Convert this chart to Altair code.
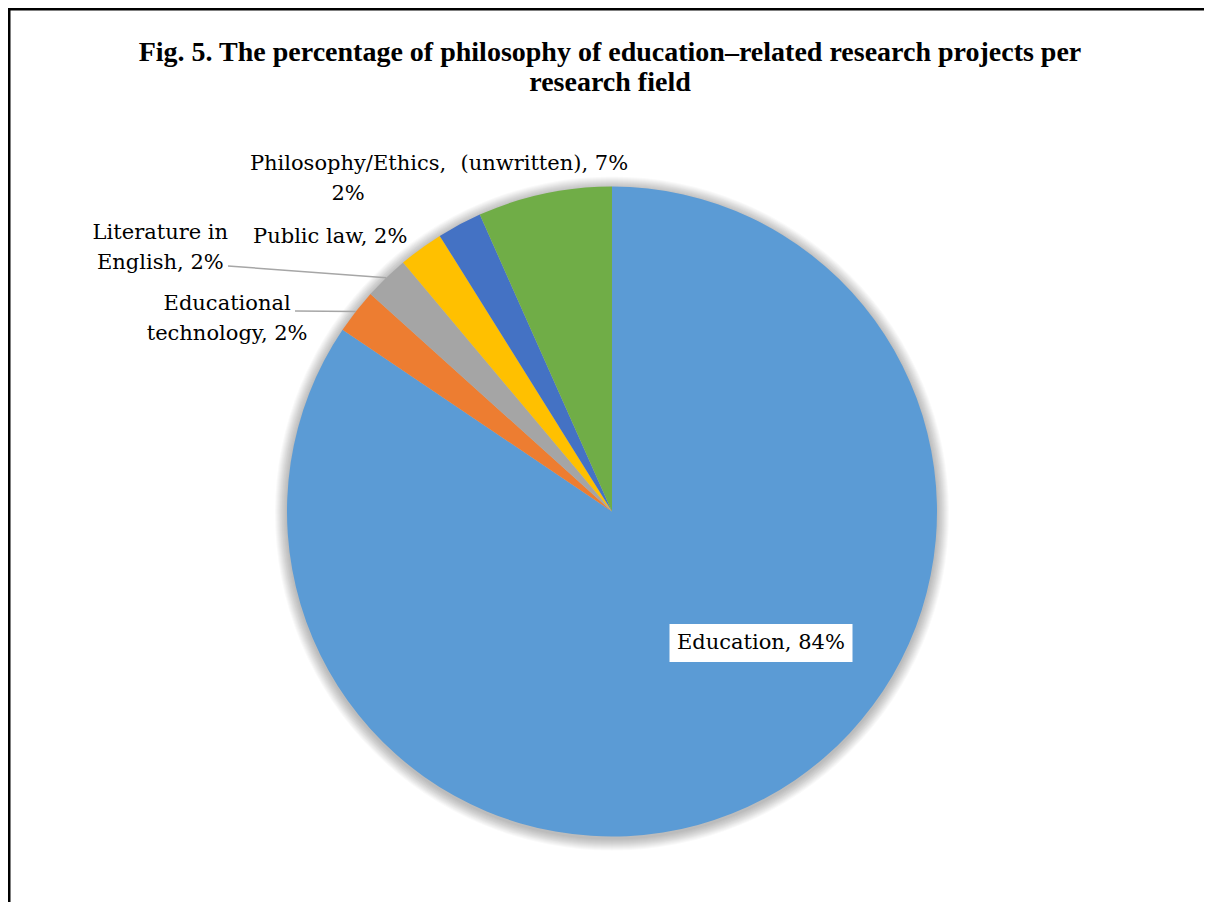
import math
import altair as alt
import pandas as pd

# ---------------- data ----------------
fields = ["Education", "Educational technology", "Literature in English",
          "Public law", "Philosophy/Ethics", "(unwritten)"]
counts = [38, 1, 1, 1, 1, 3]
colors = ["#5B9BD5", "#ED7D31", "#A5A5A5", "#FFC000", "#4472C4", "#70AD47"]
title_lines = [
    "Fig. 5. The percentage of philosophy of education\u2013related research projects per",
    "research field",
]

total = sum(counts)
pcts = [round(c / total * 100) for c in counts]

# ---------------- layout ----------------
W, H = 1196, 894
CX, CY = 604, 503.5          # pie centre (view coords)
R = 325
FONT = "DejaVu Serif"
FS = 21
LH = 30

breaks = {
    "Educational technology": "Educational",
    "Literature in English": "Literature in",
    "Philosophy/Ethics": "Philosophy/Ethics,",
}
# label radius, dx, dy (dy of the block centre)
label_pos = {
    "Education": (200, 55, -45),
    "Educational technology": (345, -113, 20),
    "Literature in English": (345, -212, -15),
    "Public law": (345, -79, 5),
    "Philosophy/Ethics": (345, -102, -28),
    "(unwritten)": (345, 4, -10),
}
leader_start = {
    "Literature in English": (220, 258),
    "Educational technology": (287, 303),
}
edu_box = (753, 635, 91.5, 19)  # cx, cy, half-w, half-h

# ---------------- table ----------------
rows = []
cum = 0
for i, (f, c, p) in enumerate(zip(fields, counts, pcts)):
    label = f"{f}, {p}%"
    if f in breaks:
        b = breaks[f]
        label = label.replace(b + " ", b + "\n", 1)
    rows.append({"field": f, "count": c, "idx": i, "start": cum,
                 "end": cum + c, "mid": cum + c / 2, "text": label})
    cum += c
df = pd.DataFrame(rows)

theta_scale = alt.Scale(domain=[0, total], range=[0, 2 * math.pi])
one = pd.DataFrame({"v": [0]})

layers = []

# soft shadow
for k in range(1, 13):
    layers.append(
        alt.Chart(one).mark_arc(radius=R + k, color="black", opacity=0.022)
        .encode(theta=alt.value(0), theta2=alt.value(2 * math.pi),
                x=alt.value(CX), y=alt.value(CY + 2))
    )

# slices
layers.append(
    alt.Chart(df).mark_arc(radius=R).encode(
        theta=alt.Theta("start:Q", scale=theta_scale, stack=False),
        theta2="end:Q",
        color=alt.Color("field:N", scale=alt.Scale(domain=fields, range=colors), legend=None),
        x=alt.value(CX), y=alt.value(CY),
    )
)

# white box behind Education label
bx, by, bw, bh = edu_box
layers.append(
    alt.Chart(one).mark_rect(color="white").encode(
        x=alt.value(bx - bw), x2=alt.value(bx + bw),
        y=alt.value(by - bh), y2=alt.value(by + bh))
)

# leader lines
for f, (sx, sy) in leader_start.items():
    r = df[df.field == f].iloc[0]
    ang = r["mid"] / total * 2 * math.pi
    ex = CX + R * math.sin(ang)
    ey = CY - R * math.cos(ang)
    layers.append(
        alt.Chart(one).mark_rule(color="#A6A6A6", strokeWidth=1.5).encode(
            x=alt.value(sx), y=alt.value(sy), x2=alt.value(ex), y2=alt.value(ey))
    )

# labels
for f, (rl, dx, dy) in label_pos.items():
    n_lines = 2 if f in breaks else 1
    layers.append(
        alt.Chart(df).transform_filter(alt.datum.field == f)
        .mark_text(font=FONT, fontSize=FS, color="black", align="center",
                   baseline="middle", lineBreak="\n", lineHeight=LH,
                   radius=rl, dx=dx, dy=dy - (n_lines - 1) * LH / 2)
        .encode(theta=alt.Theta("mid:Q", scale=theta_scale, stack=False),
                text="text:N", x=alt.value(CX), y=alt.value(CY))
    )

# frame (left + top)
layers.append(
    alt.Chart(one).mark_rule(color="black", strokeWidth=2.5).encode(
        x=alt.value(0), x2=alt.value(W), y=alt.value(1.25))
)
layers.append(
    alt.Chart(one).mark_rule(color="black", strokeWidth=2.5).encode(
        x=alt.value(1.25), y=alt.value(0), y2=alt.value(H))
)

chart = alt.layer(*layers).properties(
    width=W, height=H,
    padding=0,
    autosize=alt.AutoSizeParams(type="none"),
    title=alt.TitleParams(text=title_lines, font="Liberation Serif", fontSize=28,
                          fontWeight="bold", color="black", anchor="middle",
                          frame="group", offset=-90, dx=4, lineHeight=30),
).configure(background="white").configure_view(stroke="transparent")

chart.save("out.html", embed_options={"renderer": "svg", "actions": False})
